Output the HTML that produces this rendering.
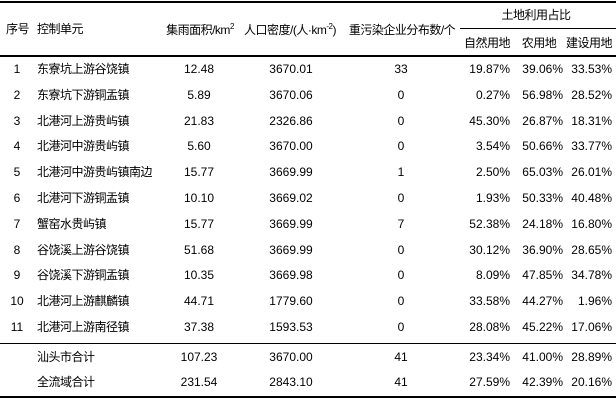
<!DOCTYPE html>
<html><head><meta charset="utf-8"><style>
body{margin:0;width:616px;height:400px;background:#fff;position:relative;overflow:hidden;font-family:"Liberation Sans","Noto Sans CJK SC",sans-serif;font-size:12px;color:#000}
.t{position:absolute;white-space:nowrap;line-height:14px;transform:translate(-50%,-50%)}
.l{position:absolute;white-space:nowrap;line-height:14px;transform:translateY(-50%)}
.r{position:absolute;white-space:nowrap;line-height:14px;transform:translate(-100%,-50%)}
.h{position:absolute;left:0;background:#000;height:1px}
sup{font-size:8px;line-height:0}
.hd{letter-spacing:-0.5px}
</style></head><body>
<div class="h" style="top:1px;width:616px;height:1.5px"></div>
<div class="h" style="top:28px;left:460px;width:156px"></div>
<div class="h" style="top:55px;width:616px;height:1.5px"></div>
<div class="h" style="top:343px;width:616px"></div>
<div class="h" style="top:396px;width:616px;height:1.5px"></div>
<div class="l hd" style="left:6px;top:29px">序号</div>
<div class="l hd" style="left:37px;top:29px">控制单元</div>
<div class="t hd" style="left:200px;top:30px">集雨面积/km<sup>2</sup></div>
<div class="t hd" style="left:290px;top:30px">人口密度/(人·km<sup>-2</sup>)</div>
<div class="t hd" style="left:402px;top:30px">重污染企业分布数/个</div>
<div class="t hd" style="left:536px;top:15px">土地利用占比</div>
<div class="t hd" style="left:487px;top:43px">自然用地</div>
<div class="t hd" style="left:539px;top:43px">农用地</div>
<div class="t hd" style="left:589px;top:43px">建设用地</div>
<div id="rows"></div>
<script>
var d=[["1","东寮坑上游谷饶镇","12.48","3670.01","33","19.87%","39.06%","33.53%"],
["2","东寮坑下游铜盂镇","5.89","3670.06","0","0.27%","56.98%","28.52%"],
["3","北港河上游贵屿镇","21.83","2326.86","0","45.30%","26.87%","18.31%"],
["4","北港河中游贵屿镇","5.60","3670.00","0","3.54%","50.66%","33.77%"],
["5","北港河中游贵屿镇南边","15.77","3669.99","1","2.50%","65.03%","26.01%"],
["6","北港河下游铜盂镇","10.10","3669.02","0","1.93%","50.33%","40.48%"],
["7","蟹窑水贵屿镇","15.77","3669.99","7","52.38%","24.18%","16.80%"],
["8","谷饶溪上游谷饶镇","51.68","3669.99","0","30.12%","36.90%","28.65%"],
["9","谷饶溪下游铜盂镇","10.35","3669.98","0","8.09%","47.85%","34.78%"],
["10","北港河上游麒麟镇","44.71","1779.60","0","33.58%","44.27%","1.96%"],
["11","北港河上游南径镇","37.38","1593.53","0","28.08%","45.22%","17.06%"],
["","汕头市合计","107.23","3670.00","41","23.34%","41.00%","28.89%"],
["","全流域合计","231.54","2843.10","41","27.59%","42.39%","20.16%"]];
var h="";
d.forEach(function(r,i){var y=i<11?69+i*25.8:357+(i-11)*25;
h+='<div class="t" style="left:17px;top:'+y+'px">'+r[0]+'</div>';
h+='<div class="l hd" style="left:37px;top:'+y+'px">'+r[1]+'</div>';
h+='<div class="t" style="left:199px;top:'+y+'px">'+r[2]+'</div>';
h+='<div class="t" style="left:291px;top:'+y+'px">'+r[3]+'</div>';
h+='<div class="t" style="left:401px;top:'+y+'px">'+r[4]+'</div>';
h+='<div class="r" style="left:510px;top:'+y+'px">'+r[5]+'</div>';
h+='<div class="r" style="left:563px;top:'+y+'px">'+r[6]+'</div>';
h+='<div class="r" style="left:612px;top:'+y+'px">'+r[7]+'</div>';});
document.getElementById("rows").innerHTML=h;
</script>
</body></html>
